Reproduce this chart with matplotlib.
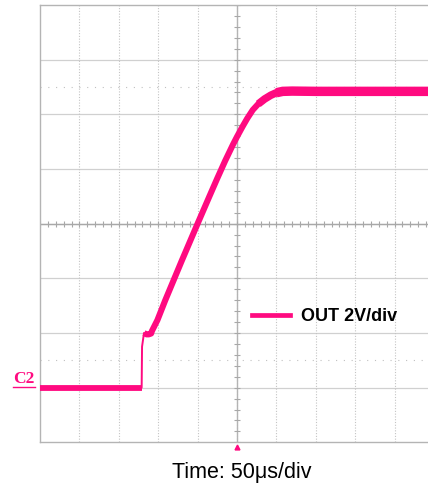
import matplotlib
matplotlib.use("Agg")
import matplotlib.pyplot as plt
import matplotlib.transforms as mtransforms
from matplotlib.lines import Line2D
import numpy as np

plt.rcParams['font.family'] = ['Liberation Sans', 'DejaVu Sans']

# scope settings (50us/div horizontally, 2V/div vertically, C2 ground at 0 V)
t_range = (-250, 250)
v_range = (-2, 14)
t_div = 50
v_div = 2

# OUT trace (time in us, voltage in V)
t_us = [-250, -200, -150, -121, -120.5, -118, -115, -112, -109, -108,
        -101, -91, -70, -50, -35, -25, -15, -5, 0, 7, 13, 20, 27, 35, 43,
        50, 58, 70, 100, 150, 200, 250]
v_out = [0.0, 0.0, 0.0, 0.0, 1.5, 2.0, 1.95, 1.95, 1.98, 2.07,
         2.47, 3.2, 4.65, 6.0, 7.0, 7.66, 8.3, 8.9, 9.18, 9.55, 9.85, 10.16,
         10.38, 10.56, 10.7, 10.79, 10.84, 10.85, 10.84, 10.84, 10.84, 10.84]

pink = '#ff0a80'

fig = plt.figure(figsize=(4.28, 4.91), dpi=100)
ax = fig.add_axes([40 / 428, 48.7 / 491, 394 / 428, 437.3 / 491])
ax.set_xlim(*t_range)
ax.set_ylim(*v_range)

# graticule
for v in np.arange(v_range[0] + v_div, v_range[1], v_div):
    ax.axhline(v, color='#d0d0d0', lw=0.9, zorder=1)
for t in np.arange(t_range[0] + t_div, t_range[1], t_div):
    ax.axvline(t, color='#c4c4c4', lw=0.8, ls=(0, (1, 1.5)), zorder=1)
for v in [v_range[0] + 1.5 * v_div, v_range[1] - 1.5 * v_div]:
    ax.axhline(v, color='#c0c0c0', lw=0.8, ls=(0, (1, 6)), zorder=1)

# centre axes with minor ticks
vc = (v_range[0] + v_range[1]) / 2
ax.axhline(vc, color='#a8a8a8', lw=1.0, zorder=1)
ax.axvline(0, color='#b4b4b4', lw=1.0, zorder=1)
ticks_t = np.arange(t_range[0], t_range[1] + 1, t_div / 5)
ax.plot(ticks_t, np.full(len(ticks_t), vc), ls='none', marker='|',
        ms=4, mew=0.8, color='#a8a8a8', zorder=1)
ticks_v = np.arange(v_range[0], v_range[1] + 0.01, v_div / 5)
ax.plot(np.zeros(len(ticks_v)), ticks_v, ls='none', marker='_',
        ms=4, mew=0.8, color='#a8a8a8', zorder=1)

# trace: thin edge for the step, thick noisy band elsewhere
ax.plot(t_us, v_out, color=pink, lw=1.4, zorder=3)
ax.plot(t_us[:4], v_out[:4], color=pink, lw=4.2, zorder=3, solid_capstyle='butt')
ax.plot(t_us[5:], v_out[5:], color=pink, lw=4.4, zorder=3, solid_capstyle='butt')
ax.plot(t_us[22:], v_out[22:], color=pink, lw=5.5, zorder=3, solid_capstyle='butt')
ax.plot(t_us[25:], v_out[25:], color=pink, lw=6.8, zorder=3, solid_capstyle='butt')

# trigger marker below the screen
trans = mtransforms.blended_transform_factory(ax.transData, ax.transAxes)
ax.plot([0], [-0.011], marker='^', ms=3.5, color=pink, transform=trans,
        clip_on=False, zorder=4)

# channel marker
ctrans = mtransforms.blended_transform_factory(ax.transAxes, ax.transData)
ax.text(-0.013, 0.03, 'C2', transform=ctrans, ha='right', va='bottom', color=pink,
        fontsize=12.5, fontweight='bold', family='Liberation Serif')
ax.plot([-0.068, -0.013], [0.03, 0.03], color=pink, lw=1.0,
        transform=ctrans, clip_on=False)

handle = Line2D([], [], color=pink, lw=3.4)
ax.legend([handle], ['OUT 2V/div'], loc='center left', bbox_to_anchor=(0.538, 0.287),
          frameon=False, borderpad=0, borderaxespad=0, handlelength=2.13,
          handletextpad=0.61, prop={'weight': 'bold', 'size': 13})

for side in ['left', 'top', 'bottom', 'right']:
    ax.spines[side].set_color('#b4b4b4')
    ax.spines[side].set_linewidth(1.0)
ax.set_xticks([])
ax.set_yticks([])

fig.text(241.5 / 428, 1 - 478.3 / 491, 'Time: 50μs/div', ha='center', va='baseline',
         fontsize=15.5)

fig.savefig('out.png', dpi=100)
